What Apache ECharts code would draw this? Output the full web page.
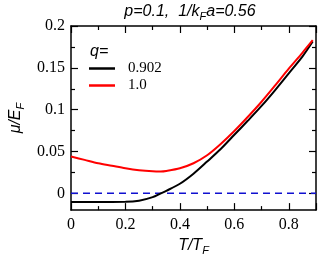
<!DOCTYPE html>
<html><head><meta charset="utf-8">
<script src="https://cdn.jsdelivr.net/npm/echarts@6/dist/echarts.min.js"></script>
<style>html,body{margin:0;padding:0;background:#fff}#c{width:319px;height:261px}</style>
</head><body><div id="c"></div>
<script>
// Data
const T_red   = [0, 0.05, 0.1, 0.15, 0.2, 0.25, 0.3, 0.33, 0.35, 0.4, 0.45, 0.5, 0.55, 0.6, 0.65, 0.7, 0.75, 0.8, 0.85, 0.888];
const mu_red  = [0.044, 0.040, 0.036, 0.033, 0.030, 0.0277, 0.0264, 0.0262, 0.0268, 0.030, 0.036, 0.0455, 0.059, 0.0745, 0.0915, 0.1095, 0.129, 0.149, 0.168, 0.183];
const T_black = [0, 0.1, 0.2, 0.25, 0.3, 0.33, 0.35, 0.4, 0.45, 0.5, 0.55, 0.6, 0.65, 0.7, 0.75, 0.8, 0.85, 0.888];
const mu_black= [-0.0102, -0.0102, -0.0101, -0.0088, -0.0045, 0, 0.003, 0.0115, 0.0235, 0.038, 0.053, 0.070, 0.087, 0.1045, 0.1235, 0.1435, 0.1635, 0.1815];
const T_zero  = [0, 0.9];
const mu_zero = [0, 0];
const legendNames = ['0.902', '1.0'];
const yMajor = [0, 0.05, 0.1, 0.15, 0.2];
const yMinor = [0.025, 0.075, 0.125, 0.175];

const pairs = (xs, ys) => xs.map((x, i) => [x, ys[i]]);
const serif = 'Liberation Serif';
const sans = 'Liberation Sans';
const richIt = {
  i: {fontFamily: sans, fontStyle: 'italic', fontWeight: 'normal', fontSize: 16, color: '#000'},
  s: {fontFamily: sans, fontStyle: 'italic', fontWeight: 'normal', fontSize: 11, color: '#000', padding: [9, 0, 0, 0]}
};

const baseX = {
  type: 'value', min: 0, max: 0.9, interval: 0.2,
  axisLine: {show: true, onZero: false, lineStyle: {color: '#000', width: 1.5}},
  axisTick: {show: true, inside: true, length: 7, lineStyle: {color: '#000', width: 1.2}},
  minorTick: {show: true, splitNumber: 2, length: 4, lineStyle: {color: '#000', width: 1.2}},
  splitLine: {show: false}, minorSplitLine: {show: false}
};
const baseY = (pos, vals, len, showLine, showLabel) => ({
  type: 'value', min: -0.02, max: 0.2, position: pos,
  axisLine: {show: showLine, onZero: false, lineStyle: {color: '#000', width: 1.5}},
  axisTick: {show: true, inside: true, length: len, customValues: vals, lineStyle: {color: '#000', width: 1.2}},
  axisLabel: showLabel ? {show: true, customValues: yMajor, fontFamily: serif, fontSize: 16, color: '#000', margin: 6,
      formatter: v => String(v)} : {show: false},
  splitLine: {show: false}
});

const chart = echarts.init(document.getElementById('c'), null, {renderer: 'canvas'});
chart.setOption({
  animation: false,
  backgroundColor: '#fff',
  grid: {left: 63, right: 3, top: 26, bottom: 47, containLabel: false},
  xAxis: [
    Object.assign({}, baseX, {position: 'bottom',
      name: '{i|T/T}{s|F}', nameLocation: 'middle', nameGap: 23,
      nameTextStyle: {rich: richIt},
      axisLabel: {show: true, fontFamily: serif, fontSize: 16, color: '#000', margin: 7, showMaxLabel: false}}),
    Object.assign({}, baseX, {position: 'top', axisLabel: {show: false}})
  ],
  yAxis: [
    Object.assign(baseY('left', yMajor, 7, true, true), {
      name: '{i|μ/E}{s|F}', nameLocation: 'middle', nameGap: 45, nameRotate: 90,
      nameTextStyle: {rich: richIt}}),
    baseY('left', yMinor, 4, false, false),
    baseY('right', yMajor, 7, true, false),
    baseY('right', yMinor, 4, false, false)
  ],
  legend: {
    orient: 'vertical', left: 89, top: 61, padding: 0, itemGap: 2,
    itemWidth: 26, itemHeight: 2.5, icon: 'rect',
    data: legendNames,
    textStyle: {fontFamily: serif, fontSize: 15, color: '#000', padding: [0, 0, 0, 8]}
  },
  graphic: [{
    type: 'text', left: 90, top: 44,
    style: {text: 'q=', font: 'italic 16px "Liberation Sans"', fill: '#000'}
  }, {
    type: 'text', x: 190, y: 2,
    style: {text: '{i|p=0.1,  1/k}{s|F}{i|a=0.56}', align: 'center', verticalAlign: 'top', rich: richIt}
  }],
  series: [
    {type: 'line', name: 'zero', data: pairs(T_zero, mu_zero), symbol: 'none',
     lineStyle: {color: '#1010d0', width: 1.5, type: [7, 5]}, z: 1},
    {type: 'line', name: legendNames[0], data: pairs(T_black, mu_black), symbol: 'none',
     smooth: 0.3, color: '#000', lineStyle: {color: '#000', width: 2}, z: 2},
    {type: 'line', name: legendNames[1], data: pairs(T_red, mu_red), symbol: 'none',
     smooth: 0.3, color: '#ff0000', lineStyle: {color: '#ff0000', width: 2}, z: 3}
  ]
});
</script></body></html>
